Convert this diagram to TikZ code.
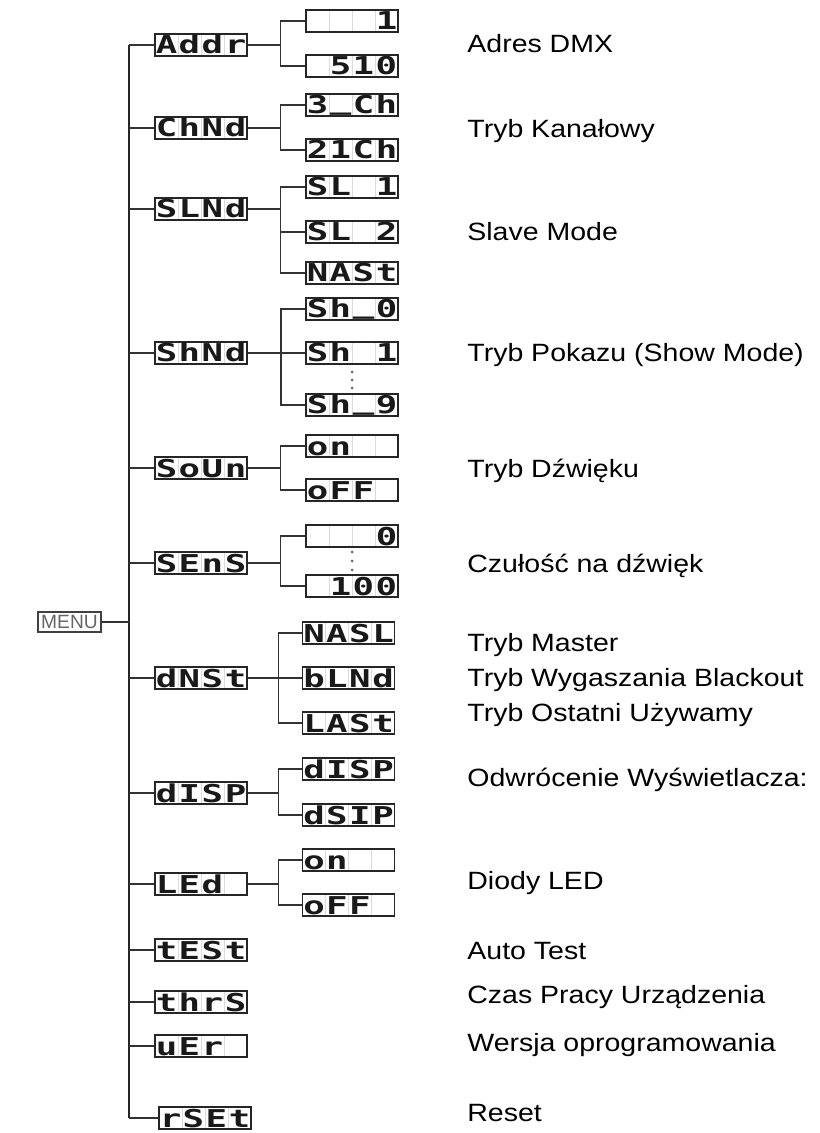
\documentclass[tikz,border=0pt]{standalone}
\usepackage{fontspec}
\setmainfont{Liberation Sans}
\newfontfamily\lblfont[FakeStretch=1.14]{Liberation Sans}
\newfontfamily\lcdfont[FakeStretch=1.45]{DejaVu Sans Mono}
\usetikzlibrary{positioning,calc}
\newcommand\lcd[4]{\makebox[11.5pt]{#1}\makebox[11.5pt]{#2}\makebox[11.5pt]{#3}\makebox[11.5pt]{#4}}
\newcommand\us{\raisebox{2.2pt}{\_}}
\tikzset{
  disp/.style={draw=black!85, line width=0.7pt, minimum width=46pt, minimum height=11pt, inner sep=0pt,
               text height=9pt, text depth=0pt, text=black!90,
               font=\lcdfont\bfseries\fontsize{12.3pt}{12.3pt}\selectfont,
               path picture={\foreach \k in {1,2,3}
                 \draw[black!14, line width=0.5pt] ([xshift=\k*11.5pt]path picture bounding box.south west)
                   -- ([xshift=\k*11.5pt]path picture bounding box.north west);}},
  menubox/.style={draw=black!75, line width=0.6pt, minimum width=31.5pt, minimum height=10pt, inner sep=0pt,
                  text=black!60, font=\fontsize{9.6pt}{9.6pt}\selectfont},
  trunk/.style={line width=1.3pt, draw=black!85},
  branch/.style={line width=0.65pt, draw=black!80},
  lbl/.style={anchor=base west, inner sep=0pt, font=\lblfont\fontsize{12.5pt}{15pt}\selectfont},
  vdot/.style={circle, fill=black!60, inner sep=0pt, minimum size=1.5pt},
}
\begin{document}
\begin{tikzpicture}[x=0.5pt, y=-0.5pt]
  \useasboundingbox (0,0) rectangle (819,1133);

  % --- menu
  \node[menubox] (menu) at (69.5,622) {MENU};

  % --- main items
  \node[disp] (addr) at (201,45) {\lcd{A}{d}{d}{r}};
  \node[disp] (chnd) at (201,128) {\lcd{C}{h}{N}{d}};
  \node[disp] (slnd) at (201,209) {\lcd{S}{L}{N}{d}};
  \node[disp] (shnd) at (201,353) {\lcd{S}{h}{N}{d}};
  \node[disp] (soun) at (201,468) {\lcd{S}{o}{U}{n}};
  \node[disp] (sens) at (201,563) {\lcd{S}{E}{n}{S}};
  \node[disp] (dmst) at (201,678) {\lcd{d}{N}{S}{t}};
  \node[disp] (dsp) at (201,793) {\lcd{d}{I}{S}{P}};
  \node[disp] (led) at (201,884) {\lcd{L}{E}{d}{}};
  \node[disp] (test) at (201,950) {\lcd{t}{E}{S}{t}};
  \node[disp] (thrs) at (201,1002) {\lcd{t}{h}{r}{S}};
  \node[disp] (ver) at (201,1046) {\lcd{u}{E}{r}{}};
  \node[disp] (rset) at (205,1118) {\lcd{r}{S}{E}{t}};

  % --- sub items
  \node[disp] (a1) at (352,21) {\lcd{}{}{}{1}};
  \node[disp] (a2) at (352,66) {\lcd{}{5}{1}{0}};
  \node[disp] (c1) at (352,105) {\lcd{3}{\us}{C}{h}};
  \node[disp] (c2) at (352,150) {\lcd{2}{1}{C}{h}};
  \node[disp] (s1) at (352,187) {\lcd{S}{L}{}{1}};
  \node[disp] (s2) at (352,232) {\lcd{S}{L}{}{2}};
  \node[disp] (s3) at (352,273) {\lcd{N}{A}{S}{t}};
  \node[disp] (h1) at (352,309) {\lcd{S}{h}{\us}{0}};
  \node[disp] (h2) at (352,353) {\lcd{S}{h}{}{1}};
  \node[disp] (h3) at (352,405) {\lcd{S}{h}{\us}{9}};
  \node[disp] (o1) at (352,446) {\lcd{o}{n}{}{}};
  \node[disp] (o2) at (352,490) {\lcd{o}{F}{F}{}};
  \node[disp] (e1) at (352,536) {\lcd{}{}{}{0}};
  \node[disp] (e2) at (352,586) {\lcd{}{1}{0}{0}};
  \node[disp] (m1) at (348.5,633) {\lcd{N}{A}{S}{L}};
  \node[disp] (m2) at (348.5,678) {\lcd{b}{L}{N}{d}};
  \node[disp] (m3) at (348.5,723) {\lcd{L}{A}{S}{t}};
  \node[disp] (d1) at (348.5,769) {\lcd{d}{I}{S}{P}};
  \node[disp] (d2) at (348.5,815) {\lcd{d}{S}{I}{P}};
  \node[disp] (l1) at (348.5,860) {\lcd{o}{n}{}{}};
  \node[disp] (l2) at (348.5,905) {\lcd{o}{F}{F}{}};
  \foreach \k in {0,1,2} {
    \node[vdot] (hd\k) at (352,372+8*\k) {};
    \node[vdot] (ed\k) at (352,552+9*\k) {};
  }

  % --- trunk
  \coordinate (trk) at (129,0);
  \draw[trunk] (trk |- addr) -- (trk |- rset);
  \foreach \n in {addr,chnd,slnd,shnd,soun,sens,dmst,dsp,led,test,thrs,ver,rset}
    \draw[branch] (trk |- \n) -- (\n.west);
  \draw[branch] (menu.east) -- (trk |- menu);

  % --- forks
  \draw[branch] (addr.east) -- ++(33,0) coordinate (fa);
  \draw[branch] (a1.west) -| (fa) |- (a2.west);
  \draw[branch] (chnd.east) -- ++(33,0) coordinate (fc);
  \draw[branch] (c1.west) -| (fc) |- (c2.west);
  \draw[branch] (slnd.east) -- ++(33,0) coordinate (fs);
  \draw[branch] (s1.west) -| (fs) |- (s3.west);
  \draw[branch] (s2.west) -- (fs |- s2);
  \draw[branch] (shnd.east) -- ++(33,0) coordinate (fh);
  \draw[branch, line width=0.9pt] (h1.west) -| (fh) |- (h3.west);
  \draw[branch] (h2.west) -- (fh);
  \draw[branch] (soun.east) -- ++(33,0) coordinate (fo);
  \draw[branch] (o1.west) -| (fo) |- (o2.west);
  \draw[branch] (sens.east) -- ++(33,0) coordinate (fe);
  \draw[branch] (e1.west) -| (fe) |- (e2.west);
  \draw[branch] (dmst.east) -- ++(31,0) coordinate (fm);
  \draw[branch] (m1.west) -| (fm) |- (m3.west);
  \draw[branch] (m2.west) -- (fm);
  \draw[branch] (dsp.east) -- ++(31,0) coordinate (fd);
  \draw[branch] (d1.west) -| (fd) |- (d2.west);
  \draw[branch] (led.east) -- ++(31,0) coordinate (fl);
  \draw[branch] (l1.west) -| (fl) |- (l2.west);

  % --- labels
  \node[lbl] (tA) at (467,53) {Adres DMX};
  \node[lbl] (tC) at (467,138) {Tryb Kanałowy};
  \node[lbl] (tS) at (467,241) {Slave Mode};
  \node[lbl] (tH) at (467,362) {Tryb Pokazu (Show Mode)};
  \node[lbl] (tO) at (467,477) {Tryb Dźwięku};
  \node[lbl] (tE) at (467,572) {Czułość na dźwięk};
  \node[lbl] (tM1) at (467,651) {Tryb Master};
  \node[lbl] (tM2) at (467,686) {Tryb Wygaszania Blackout};
  \node[lbl] (tM3) at (467,721) {Tryb Ostatni Używamy};
  \node[lbl] (tD) at (467,786) {Odwrócenie Wyświetlacza:};
  \node[lbl] (tL) at (467,889) {Diody LED};
  \node[lbl] (tT) at (467,959) {Auto Test};
  \node[lbl] (tR) at (467,1003) {Czas Pracy Urządzenia};
  \node[lbl] (tV) at (467,1051) {Wersja oprogramowania};
  \node[lbl] (tX) at (467,1121) {Reset};
\end{tikzpicture}
\end{document}
